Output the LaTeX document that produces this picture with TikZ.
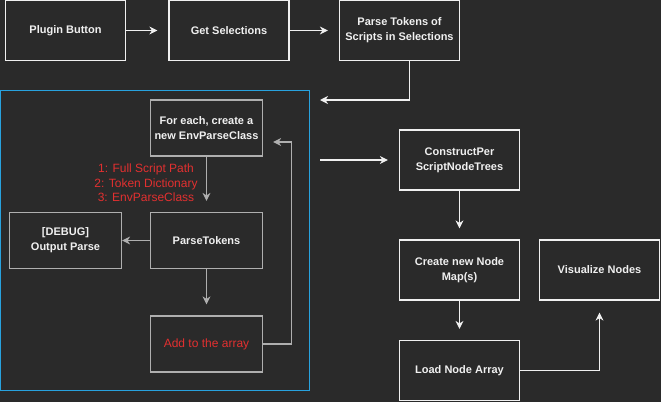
\documentclass[tikz,border=0pt]{standalone}
\usepackage{fontspec}
\setmainfont{Liberation Sans}
\usetikzlibrary{arrows.meta}

\definecolor{bgcol}{RGB}{42,42,42}
\definecolor{lightline}{RGB}{240,240,240}
\definecolor{greyline}{RGB}{175,175,175}
\definecolor{framecol}{RGB}{40,162,222}
\definecolor{redtext}{RGB}{226,48,48}

\tikzset{
  box/.style={draw=lightline, line width=1.2pt, fill=bgcol, text=lightline,
    font=\fontsize{11}{15}\selectfont\bfseries, align=center,
    minimum width=120pt, minimum height=60pt, inner sep=2pt},
  innerbox/.style={box, draw=greyline, minimum width=112pt, minimum height=56pt},
  flow/.style={draw=lightline, line width=1.2pt,
    -{Stealth[length=8pt, width=8pt, inset=2.5pt]}, shorten >=11pt},
  greyflow/.style={flow, draw=greyline},
  note/.style={text=redtext, font=\fontsize{12}{14.5}\selectfont, align=center}
}

\begin{document}
\begin{tikzpicture}[x=1pt, y=-1pt]
				% Background
				\fill[bgcol] (0,0) rectangle (661,402);
				\useasboundingbox (0,0) rectangle (661,402);
				
				% Frame round the parse loop
				\draw[framecol, line width=1pt] (0.8,90) rectangle (309,390);
				
				% Top row
				\node[box] (plug) at (65.5,30.5) {Plugin Button};
				\node[box] (gets) at (229,30.5) {Get Selections};
				\node[box] (ptok) at (399.5,30.5) {Parse Tokens of\\Scripts in Selections};
				
				% Inside the frame
				\node[innerbox] (foreach) at (206.5,128) {For each, create a\\new EnvParseClass};
				\node[innerbox] (ptoks) at (206.5,240.5) {ParseTokens};
				\node[innerbox] (debug) at (65.5,240.5) {[DEBUG]\\Output Parse};
				\node[innerbox, text=redtext, font=\fontsize{12}{14.5}\selectfont] (addarr) at (206.5,344) {Add to the array};
				\node[note] (args) at (146,183) {1: Full Script Path\\2: Token Dictionary\\3: EnvParseClass};
				
				% Right column
				\node[box] (cons) at (459.5,160) {ConstructPer\\ScriptNodeTrees};
				\node[box] (newmap) at (459.5,270) {Create new Node\\Map(s)};
				\node[box] (vis) at (599.5,270) {Visualize Nodes};
				\node[box] (load) at (459.5,370.5) {Load Node Array};
				
				% Free ends beside the frame
				\coordinate (intoframe) at (320,100);
				\coordinate (outframe) at (320,160);
				
				% Arrows
				\draw[flow] (plug) -- (gets);
				\draw[flow] (gets) -- (ptok);
				\draw[flow, shorten >=0pt] ([xshift=10pt]ptok.south) |- (intoframe);
				\draw[flow] (outframe) -- (cons.west);
				\draw[greyflow] (foreach) -- (ptoks);
				\draw[greyflow, shorten >=0pt] (ptoks) -- (debug);
				\draw[greyflow] (ptoks) -- (addarr);
				\draw[greyflow, shorten >=10pt] (addarr.east) -- ++(28,0) |- ([yshift=-14pt]foreach.east);
				\draw[flow] (cons) -- (newmap);
				\draw[flow] (newmap) -- (load);
				\draw[flow, shorten >=12pt] (load.east) -| (vis.south);
			\end{tikzpicture}
\end{document}
